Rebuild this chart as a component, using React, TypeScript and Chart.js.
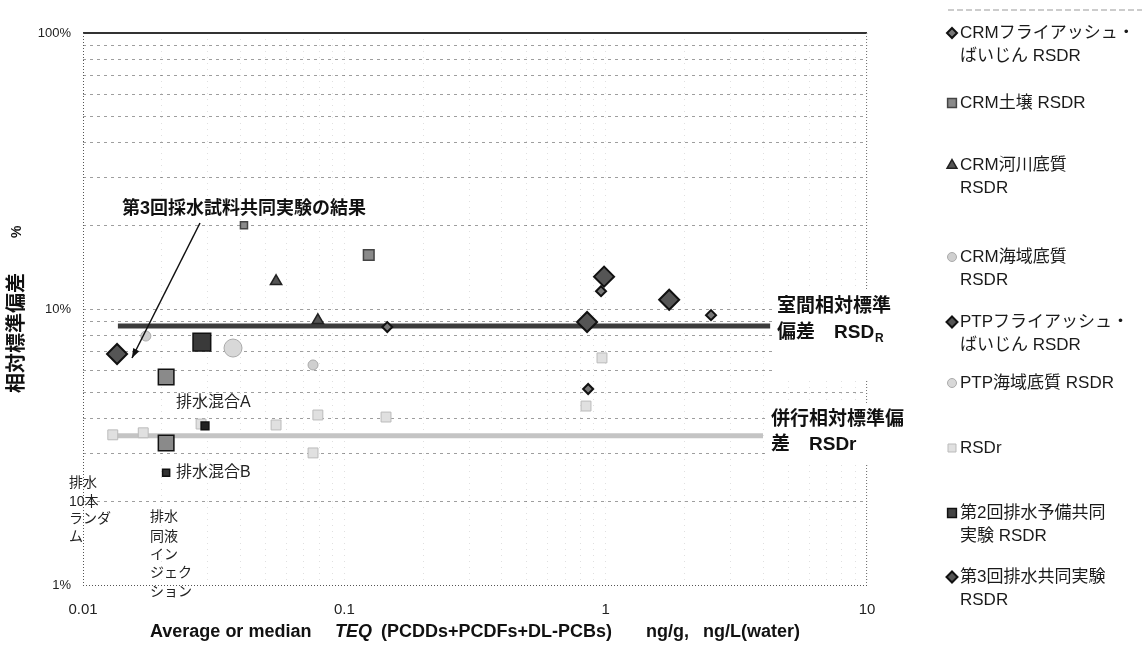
import React, { useEffect, useRef } from 'react';
import { Chart, registerables } from 'chart.js';

Chart.register(...registerables);

const FONT = '"Liberation Sans", "Noto Sans CJK JP", sans-serif';

// ---- data ----
const legendLabels = [
  'CRMフライアッシュ・\nばいじん RSDR',
  'CRM土壌 RSDR',
  'CRM河川底質\nRSDR',
  'CRM海域底質\nRSDR',
  'PTPフライアッシュ・\nばいじん RSDR',
  'PTP海域底質 RSDR',
  'RSDr',
  '第2回排水予備共同\n実験 RSDR',
  '第3回排水共同実験\nRSDR',
];

const crmFlyAshX = [0.96, 2.53, 0.857, 0.146];
const crmFlyAshY = [11.6, 9.5, 5.13, 8.6];
const crmSoilX = [0.0413, 0.124];
const crmSoilY = [20.1, 15.7];
const crmRiverX = [0.0548, 0.0792];
const crmRiverY = [12.6, 9.1];
const crmSeaX = [0.0174, 0.0759];
const crmSeaY = [7.98, 6.27];
const ptpFlyAshX = [0.986, 1.75, 0.849];
const ptpFlyAshY = [13.1, 10.8, 8.97];
const ptpSeaX = [0.0375];
const ptpSeaY = [7.22];
const rsdrPointsX = [0.013, 0.017, 0.0283, 0.0548, 0.0792, 0.1444, 0.0759, 0.968, 0.841];
const rsdrPointsY = [3.5, 3.56, 3.83, 3.8, 4.13, 4.06, 3.01, 6.65, 4.45];
const second2X = [0.0285, 0.0208, 0.0208, 0.0293, 0.0208];
const second2Y = [7.59, 5.67, 3.27, 3.77, 2.55];
const third3X = [0.0135];
const third3Y = [6.87];

const rsdRLineX = [0.0136, 4.26];
const rsdRLineY = [8.68, 8.68];
const rsdrLineX = [0.013, 4.0];
const rsdrLineY = [3.47, 3.47];

const xTickValues = [0.01, 0.1, 1, 10];
const xTickLabels = ['0.01', '0.1', '1', '10'];
const yTickValues = [1, 10, 100];
const yTickLabels = ['1%', '10%', '100%'];

const xTitleParts = ['Average or median', 'TEQ', '(PCDDs+PCDFs+DL-PCBs)', 'ng/g,', 'ng/L(water)'];
const yTitle = '相対標準偏差';
const yTitleUnit = '%';

// ---- helpers ----
const pts = (xs: number[], ys: number[]) => xs.map((x, i) => ({ x, y: ys[i] }));
const logGrid = (e0: number, e1: number) => {
  const out: number[] = [];
  for (let e = e0; e < e1; e++) for (let k = 1; k <= 9; k++) out.push(+(k * Math.pow(10, e)).toPrecision(6));
  out.push(+Math.pow(10, e1).toPrecision(6));
  return out;
};
const close = (a: number, b: number) => Math.abs(a - b) / b < 1e-6;

type Sty = { ps: string; r: number; bg: string; bc: string; bw: number };
const legendStyles: Sty[] = [
  { ps: 'rectRot', r: 5, bg: '#777', bc: '#111', bw: 2 },
  { ps: 'rect', r: 5.5, bg: '#8a8a8a', bc: '#444', bw: 1.5 },
  { ps: 'triangle', r: 5.5, bg: '#555', bc: '#222', bw: 1.5 },
  { ps: 'circle', r: 4.5, bg: '#cfcfcf', bc: '#aaa', bw: 1 },
  { ps: 'rectRot', r: 5.5, bg: '#555', bc: '#111', bw: 2 },
  { ps: 'circle', r: 4.5, bg: '#d8d8d8', bc: '#aaa', bw: 1 },
  { ps: 'rect', r: 5, bg: '#e0e0e0', bc: '#bbb', bw: 1 },
  { ps: 'rect', r: 5.5, bg: '#444', bc: '#111', bw: 1.5 },
  { ps: 'rectRot', r: 5.5, bg: '#555', bc: '#111', bw: 2 },
];
const legendY = [33, 103, 165, 257, 322, 383, 448, 513, 577];

function drawMarker(ctx: CanvasRenderingContext2D, s: Sty, x: number, y: number) {
  ctx.save();
  ctx.fillStyle = s.bg;
  ctx.strokeStyle = s.bc;
  ctx.lineWidth = s.bw;
  ctx.beginPath();
  const r = s.r;
  if (s.ps === 'rectRot') {
    ctx.moveTo(x, y - r); ctx.lineTo(x + r, y); ctx.lineTo(x, y + r); ctx.lineTo(x - r, y); ctx.closePath();
  } else if (s.ps === 'rect') {
    ctx.rect(x - r * 0.8, y - r * 0.8, r * 1.6, r * 1.6);
  } else if (s.ps === 'triangle') {
    ctx.moveTo(x, y - r); ctx.lineTo(x + r * 0.9, y + r * 0.6); ctx.lineTo(x - r * 0.9, y + r * 0.6); ctx.closePath();
  } else {
    ctx.arc(x, y, r, 0, Math.PI * 2);
  }
  ctx.fill();
  ctx.stroke();
  ctx.restore();
}

const decorPlugin = {
  id: 'decor',
  beforeDatasetsDraw(chart: any) {
    const { ctx, chartArea: a } = chart;
    ctx.save();
    ctx.strokeStyle = '#333';
    ctx.lineWidth = 2;
    ctx.beginPath(); ctx.moveTo(a.left, a.top); ctx.lineTo(a.right, a.top); ctx.stroke();
    ctx.lineWidth = 1;
    ctx.strokeStyle = '#555';
    ctx.setLineDash([1, 2]);
    ctx.beginPath(); ctx.moveTo(a.left + 0.5, a.top); ctx.lineTo(a.left + 0.5, a.bottom); ctx.stroke();
    ctx.beginPath(); ctx.moveTo(a.left, a.bottom + 0.5); ctx.lineTo(a.right, a.bottom + 0.5); ctx.stroke();
    ctx.strokeStyle = '#777';
    ctx.beginPath(); ctx.moveTo(a.right - 0.5, a.top); ctx.lineTo(a.right - 0.5, a.bottom); ctx.stroke();
    ctx.restore();
  },
  afterDatasetsDraw(chart: any) {
    const { ctx } = chart;
    ctx.save();
    ctx.fillStyle = '#fff';
    ctx.fillRect(772, 290, 170, 90);
    ctx.fillRect(768, 404, 175, 60);

    ctx.fillStyle = '#111';
    ctx.textBaseline = 'middle';
    ctx.textAlign = 'left';
    ctx.font = `bold 19px ${FONT}`;
    ctx.fillText('室間相対標準', 777, 307);
    ctx.fillText('偏差　RSD', 777, 333);
    const w1 = ctx.measureText('偏差　RSD').width;
    ctx.font = `bold 12px ${FONT}`;
    ctx.fillText('R', 777 + w1 + 1, 339);
    ctx.font = `bold 19px ${FONT}`;
    ctx.fillText('併行相対標準偏', 771, 420);
    ctx.fillText('差　RSDr', 771, 445);

    ctx.font = `bold 18px ${FONT}`;
    ctx.fillText('第3回採水試料共同実験の結果', 122, 209);
    ctx.strokeStyle = '#111';
    ctx.lineWidth = 1.5;
    const x0 = 200, y0 = 223, x1 = 132, y1 = 358;
    ctx.beginPath(); ctx.moveTo(x0, y0); ctx.lineTo(x1, y1); ctx.stroke();
    const ang = Math.atan2(y1 - y0, x1 - x0);
    ctx.beginPath();
    ctx.moveTo(x1, y1);
    ctx.lineTo(x1 - 10 * Math.cos(ang - 0.35), y1 - 10 * Math.sin(ang - 0.35));
    ctx.lineTo(x1 - 10 * Math.cos(ang + 0.35), y1 - 10 * Math.sin(ang + 0.35));
    ctx.closePath();
    ctx.fillStyle = '#111';
    ctx.fill();

    ctx.font = `16px ${FONT}`;
    ctx.fillStyle = '#222';
    ctx.fillText('排水混合A', 176, 403);
    ctx.fillText('排水混合B', 176, 473);
    ctx.font = `14px ${FONT}`;
    ['排水', '10本', 'ランダ', 'ム'].forEach((t, i) => ctx.fillText(t, 69, [483, 502, 519, 537][i]));
    ['排水', '同液', 'イン', 'ジェク', 'ション'].forEach((t, i) => ctx.fillText(t, 150, [517, 537, 555, 573, 592][i]));

    ctx.fillStyle = '#111';
    const ty = 632;
    ctx.font = `bold 18px ${FONT}`;
    ctx.fillText(xTitleParts[0], 150, ty);
    ctx.font = `italic bold 18px ${FONT}`;
    ctx.fillText(xTitleParts[1], 335, ty);
    ctx.font = `bold 18px ${FONT}`;
    ctx.fillText(xTitleParts[2], 381, ty);
    ctx.fillText(xTitleParts[3], 646, ty);
    ctx.fillText(xTitleParts[4], 703, ty);

    ctx.save();
    ctx.translate(17, 393);
    ctx.rotate(-Math.PI / 2);
    ctx.font = `bold 20px ${FONT}`;
    ctx.textAlign = 'left';
    ctx.fillText(yTitle, 0, 0);
    ctx.font = `bold 14px ${FONT}`;
    ctx.fillText(yTitleUnit, 155, 0);
    ctx.restore();

    ctx.strokeStyle = '#999';
    ctx.lineWidth = 1;
    ctx.setLineDash([6, 3]);
    ctx.beginPath(); ctx.moveTo(948, 10); ctx.lineTo(1142, 10); ctx.stroke();
    ctx.setLineDash([]);
    ctx.font = `17px ${FONT}`;
    ctx.fillStyle = '#1a1a1a';
    legendLabels.forEach((lab, i) => {
      const y = legendY[i];
      drawMarker(ctx, legendStyles[i], 952, y);
      lab.split('\n').forEach((ln, j) => ctx.fillText(ln, 960, y + j * 23));
    });
    ctx.restore();
  },
};

export default function App() {
  const ref = useRef<HTMLCanvasElement>(null);
  useEffect(() => {
    document.body.style.margin = '0';
    const xGrid = logGrid(-2, 1);
    const yGrid = logGrid(0, 2);
    const ds = (i: number, xs: number[], ys: number[], extra: any = {}) => ({
      type: 'scatter',
      label: legendLabels[i],
      data: pts(xs, ys),
      pointStyle: legendStyles[i].ps,
      pointRadius: legendStyles[i].r,
      backgroundColor: legendStyles[i].bg,
      borderColor: legendStyles[i].bc,
      pointBorderWidth: legendStyles[i].bw,
      order: 1,
      ...extra,
    });
    const chart = new Chart(ref.current as HTMLCanvasElement, {
      type: 'scatter',
      data: {
        datasets: [
          ds(8, third3X, third3Y, { pointRadius: 10 }),
          ds(0, crmFlyAshX, crmFlyAshY, { pointRadius: 5 }),
          ds(4, ptpFlyAshX, ptpFlyAshY, { pointRadius: 10 }),
          ds(1, crmSoilX, crmSoilY, { pointRadius: [5, 7.5] }),
          ds(2, crmRiverX, crmRiverY, { pointRadius: 6.5 }),
          ds(3, crmSeaX, crmSeaY, { pointRadius: 5 }),
          ds(5, ptpSeaX, ptpSeaY, { pointRadius: 9 }),
          ds(7, second2X, second2Y, {
            pointRadius: [12.5, 11, 11, 5.5, 5],
            backgroundColor: ['#3a3a3a', '#8a8a8a', '#8a8a8a', '#222', '#333'],
          }),
          ds(6, rsdrPointsX, rsdrPointsY, { pointRadius: 7 }),
          {
            type: 'line',
            label: '室間相対標準偏差 RSDR',
            data: pts(rsdRLineX, rsdRLineY),
            borderColor: '#3c3c3c',
            borderWidth: 5,
            pointRadius: 0,
            showLine: true,
            order: 10,
          },
          {
            type: 'line',
            label: '併行相対標準偏差 RSDr',
            data: pts(rsdrLineX, rsdrLineY),
            borderColor: '#c4c4c4',
            borderWidth: 5,
            pointRadius: 0,
            showLine: true,
            order: 10,
          },
        ] as any,
      },
      options: {
        responsive: false,
        animation: false,
        devicePixelRatio: 1,
        layout: { padding: { left: 0, top: 33, right: 275, bottom: 0 } },
        plugins: { legend: { display: false }, tooltip: { enabled: false } },
        scales: {
          x: {
            type: 'logarithmic',
            min: 0.01,
            max: 10,
            afterBuildTicks: (s: any) => { s.ticks = xGrid.map((v) => ({ value: v })); },
            afterFit: (s: any) => { s.height = 61; },
            ticks: {
              autoSkip: false,
              maxRotation: 0,
              padding: 16,
              color: '#222',
              font: { family: FONT, size: 15 },
              callback: (v: any) => {
                const i = xTickValues.findIndex((m) => close(Number(v), m));
                return i >= 0 ? xTickLabels[i] : '';
              },
            },
            grid: { color: 'rgba(0,0,0,0.12)', drawTicks: false, lineWidth: 1 },
            border: { display: false, dash: [1, 5] },
          },
          y: {
            type: 'logarithmic',
            min: 1,
            max: 100,
            afterBuildTicks: (s: any) => { s.ticks = yGrid.map((v) => ({ value: v })); },
            afterFit: (s: any) => { s.width = 83; },
            ticks: {
              autoSkip: false,
              padding: 12,
              color: '#222',
              font: { family: FONT, size: 13 },
              callback: (v: any) => {
                const i = yTickValues.findIndex((m) => close(Number(v), m));
                return i >= 0 ? yTickLabels[i] : '';
              },
            },
            grid: {
              drawTicks: false,
              lineWidth: 1,
              color: (c: any) => (c.tick && (close(c.tick.value, 100) || close(c.tick.value, 1)) ? 'rgba(0,0,0,0)' : 'rgba(0,0,0,0.38)'),
            },
            border: { display: false, dash: [3, 4] },
          },
        },
      },
      plugins: [decorPlugin],
    } as any);
    return () => chart.destroy();
  }, []);
  return (
    <div style={{ position: 'absolute', left: 0, top: 0, width: 1142, height: 646, background: '#fff' }}>
      <canvas ref={ref} width={1142} height={646} style={{ width: 1142, height: 646, display: 'block' }} />
    </div>
  );
}
